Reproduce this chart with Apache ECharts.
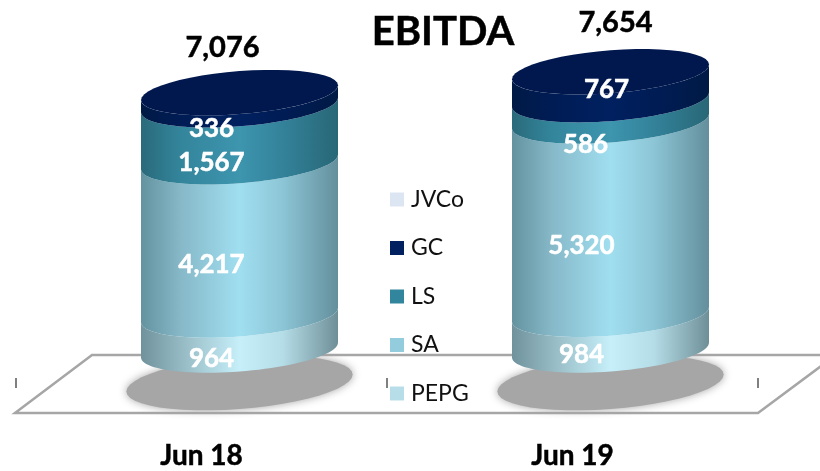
<!DOCTYPE html>
<html><head><meta charset="utf-8">
<style>html,body{margin:0;padding:0;background:#fff}#c{width:820px;height:471px}</style>
<script src="https://cdn.jsdelivr.net/npm/echarts@6/dist/echarts.min.js"></script>
</head><body><div id="c"></div>
<script>
// ---- data ----
const categories = ['Jun 18', 'Jun 19'];
const totals = [7076, 7654];
const PEPG = [964, 984];
const SA = [4217, 5320];
const LS = [1567, 586];
const GC = [336, 767];
const JVCo = [];
// ---- layout / style (not data) ----
const FONT = 'Lato';
const DEPTH = 38, RX_FRAC = 0.2655, RY = 21.5, SHEAR = 0.075;
const stackSeries = [
  {name:'PEPG', values:PEPG, legend:'#B7DEE8', grad:['#6f929c','#95b9c3','#c6eff9','#b5dde7','#6f8f98'], off:[[-28,5],[-29,1]]},
  {name:'SA',   values:SA,   legend:'#93CDDD', grad:['#64939f','#86b8c8','#a0dff0','#8cc5d6','#648f9c'], off:[[-28,5],[-29,7]]},
  {name:'LS',   values:LS,   legend:'#31859C', grad:['#2a6a7b','#33859b','#3d95ae','#33829a','#286776'], off:[[-28,8],[-25,13]]},
  {name:'GC',   values:GC,   legend:'#002060', grad:['#001a45','#001c55','#00205f','#001c55','#001a45'], off:[[-28,8],[-4,-18]]}
];
const totalOff = [[-17,-45],[5,-49]];
const fmt = v => v.toLocaleString('en-US');
function arc(cx, cy, a, b, t0, t1){
  const pts = [], n = 48;
  for (let i = 0; i <= n; i++){
    const t = t0 + (t1 - t0) * i / n;
    const dx = a * Math.cos(t);
    pts.push([cx + dx, cy + b * Math.sin(t) - SHEAR * dx]);
  }
  return pts;
}
const stops = c => new echarts.graphic.LinearGradient(0,0,1,0,
  [0,0.2,0.5,0.72,1].map((o,i)=>({offset:o,color:c[i]})));

function makeSeries(s, idx){
  const data = s.values.map((v,i)=>{
    let base = 0;
    for (let k=0;k<idx;k++) base += stackSeries[k].values[i];
    return [i, base, base+v, v];
  });
  return {
    type:'custom', name:s.name, z:5+idx, animation:false,
    itemStyle:{color:s.legend},
    encode:{x:0,y:[1,2]},
    data,
    renderItem(params, api){
      const i = api.value(0);
      const p0 = api.coord([i, api.value(1)]);
      const p1 = api.coord([i, api.value(2)]);
      const a = api.size([1,0])[0] * RX_FRAC;
      const cx = p0[0] + DEPTH, y0 = p0[1] - DEPTH, y1 = p1[1] - DEPTH;
      const side = arc(cx,y0,a,RY,0,Math.PI).concat(arc(cx,y1,a,RY,Math.PI,0));
      const kids = [{type:'polygon',shape:{points:side},style:{fill:stops(s.grad)}}];
      if (s.name === 'GC'){
        kids.push({type:'polygon',shape:{points:arc(cx,y1,a,RY,0,Math.PI*2)},style:{fill:'#00184e'}});
        kids.push({type:'text',z2:20,style:{text:fmt(totals[i]),x:cx+totalOff[i][0],y:y1+totalOff[i][1],
          align:'center',verticalAlign:'middle',fill:'#000',stroke:'#000',lineWidth:0.5,font:'bold 29px '+FONT}});
      }
      kids.push({type:'text',z2:20,style:{text:fmt(api.value(3)),
        x:cx+s.off[i][0], y:(y0+y1)/2+RY+s.off[i][1],
        align:'center',verticalAlign:'middle',fill:'#fff',stroke:'#fff',lineWidth:0.5,font:'bold 26px '+FONT}});
      return {type:'group',children:kids};
    }
  };
}

const shadowSeries = {
  type:'custom', name:'shadow', z:3, animation:false, silent:true,
  encode:{x:0,y:1},
  data: categories.map((c,i)=>[i,0]),
  renderItem(params, api){
    const p = api.coord([api.value(0),0]);
    const a = api.size([1,0])[0] * 0.305;
    return {type:'polygon',shape:{points:arc(p[0]+DEPTH,p[1]-5,a,26,0,Math.PI*2)},
      style:{fill:'#a6a6a6',shadowColor:'#a6a6a6',shadowBlur:8}};
  }
};

const chart = echarts.init(document.getElementById('c'),null,{renderer:'canvas'});
chart.setOption({
  animation:false,
  backgroundColor:'#fff',
  title:{text:'EBITDA',left:438,top:7,textAlign:'center',
    textStyle:{fontFamily:FONT,fontWeight:'bold',fontSize:40,color:'#000',textBorderColor:'#000',textBorderWidth:0.5}},
  grid:{left:16,width:742,top:61,height:327},
  xAxis:{type:'category',data:categories,boundaryGap:true,
    axisLine:{show:false},
    axisTick:{show:true,inside:true,length:10,lineStyle:{color:'#808080',width:2}},
    axisLabel:{color:'#000',fontFamily:FONT,fontWeight:'bold',fontSize:28,margin:54,textBorderColor:'#000',textBorderWidth:0.5},
    splitLine:{show:false}},
  yAxis:{type:'value',min:0,max:9000,show:false,splitLine:{show:false}},
  legend:{orient:'vertical',left:385,top:183,itemWidth:14,itemHeight:14,itemGap:25.5,icon:'rect',
    data:['JVCo','GC','LS','SA','PEPG'],selectedMode:false,
    textStyle:{fontFamily:FONT,fontSize:23,color:'#111',padding:[0,0,0,2]}},
  graphic:[{type:'polygon',z:0,silent:true,
    shape:{points:[[92,355],[836,355],[758,413],[15,413]]},
    style:{fill:'#fff',stroke:'#a6a6a6',lineWidth:2.5}}],
  series:[shadowSeries].concat(stackSeries.map(makeSeries)).concat([
    {type:'custom',name:'JVCo',z:4,itemStyle:{color:'#DCE6F2'},data:JVCo,renderItem(){return null;}}
  ])
});
</script></body></html>
